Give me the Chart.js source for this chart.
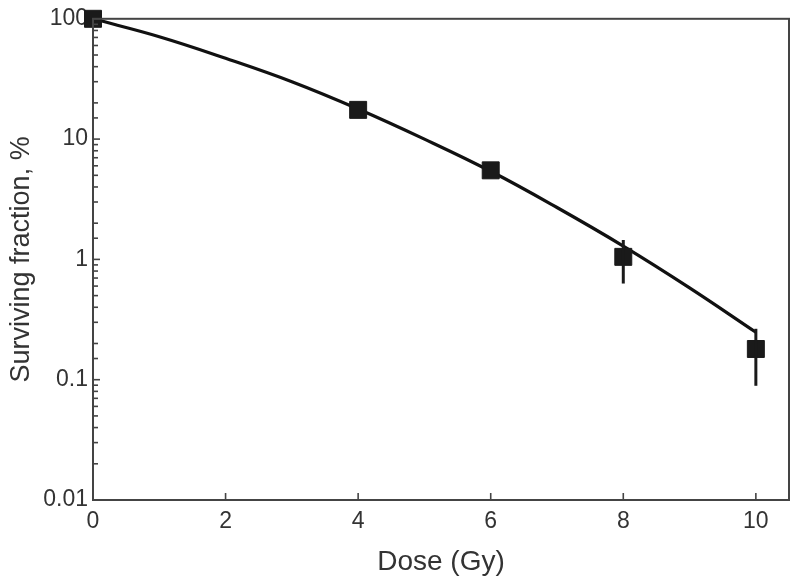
<!DOCTYPE html>
<html>
<head>
<meta charset="utf-8">
<script src="https://cdn.jsdelivr.net/npm/chart.js@4"></script>
<style>
html,body{margin:0;padding:0;background:#fff;}
canvas{display:block;}
</style>
</head>
<body>
<canvas id="c" width="800" height="586"></canvas>
<script>
// Measured data points (dose in Gy, surviving fraction in %)
const doses = [0, 4, 6, 8, 10];
const survival = [100, 17.5, 5.5, 1.05, 0.18];
const errLow = [null, null, null, 0.63, 0.089];
const errHigh = [null, null, null, 1.45, 0.265];
// Fitted curve
const fitDoses = [0, 1, 2, 3, 4, 5, 6, 7, 8, 9, 10];
const fitSurvival = [100, 71, 47, 30, 17.8, 10, 5.4, 2.7, 1.29, 0.58, 0.248];
// Tick labels
const xTicks = [0, 2, 4, 6, 8, 10];
const yTicks = [0.01, 0.1, 1, 10, 100];

const FONT = '"Liberation Sans", Arial, Helvetica, sans-serif';
const TEXT = '#333333';
const AXIS = '#444444';

const framePlugin = {
  id: 'frame',
  afterDatasetsDraw(chart) {
    const {ctx, scales} = chart;
    ctx.save();
    ctx.strokeStyle = '#1a1a1a';
    ctx.lineWidth = 3;
    doses.forEach((d, i) => {
      if (errLow[i] == null) return;
      const x = scales.x.getPixelForValue(d);
      ctx.beginPath();
      ctx.moveTo(x, scales.y.getPixelForValue(errHigh[i]));
      ctx.lineTo(x, scales.y.getPixelForValue(errLow[i]));
      ctx.stroke();
    });
    ctx.restore();
  },
  afterDraw(chart) {
    const {ctx, chartArea: a, scales} = chart;
    ctx.save();
    ctx.strokeStyle = AXIS;
    ctx.lineWidth = 2;
    ctx.strokeRect(a.left, a.top, a.right - a.left, a.bottom - a.top);
    ctx.lineWidth = 1.6;
    scales.y.ticks.forEach(t => {
      const y = scales.y.getPixelForValue(t.value);
      if (y < a.top - 1 || y > a.bottom + 1) return;
      const len = yTicks.includes(t.value) ? 7 : 5;
      ctx.beginPath();
      ctx.moveTo(a.left, y);
      ctx.lineTo(a.left + len, y);
      ctx.stroke();
    });
    xTicks.forEach(v => {
      const x = scales.x.getPixelForValue(v);
      ctx.beginPath();
      ctx.moveTo(x, a.bottom);
      ctx.lineTo(x, a.bottom - 7);
      ctx.stroke();
    });
    ctx.restore();
  }
};

new Chart(document.getElementById('c'), {
  type: 'scatter',
  data: {
    datasets: [
      {
        label: 'Measured',
        data: doses.map((d, i) => ({x: d, y: survival[i]})),
        showLine: false,
        pointStyle: 'rect',
        pointRadius: 12,
        pointBackgroundColor: '#1a1a1a',
        pointBorderColor: '#1a1a1a',
        pointBorderWidth: 1,
        clip: false,
        order: 0
      },
      {
        label: 'Fit',
        data: fitDoses.map((d, i) => ({x: d, y: fitSurvival[i]})),
        showLine: true,
        borderColor: '#111111',
        borderWidth: 3.2,
        pointRadius: 0,
        tension: 0.4,
        clip: false,
        order: 1
      }
    ]
  },
  options: {
    responsive: false,
    animation: false,
    devicePixelRatio: 1,
    layout: {autoPadding: false, padding: {left: 0, right: 11, top: 15, bottom: 0}},
    plugins: {legend: {display: false}, tooltip: {enabled: false}},
    scales: {
      x: {
        type: 'linear',
        min: 0,
        max: 10.5,
        grid: {display: false, drawTicks: false},
        border: {display: false},
        afterBuildTicks(scale) { scale.ticks = xTicks.map(v => ({value: v})); },
        afterFit(scale) { scale.height = 86; },
        ticks: {
          color: TEXT,
          font: {family: FONT, size: 23},
          padding: 8,
          maxRotation: 0,
          callback: v => String(v)
        },
        title: {
          display: true,
          text: 'Dose (Gy)',
          color: TEXT,
          font: {family: FONT, size: 28},
          padding: {top: 0, bottom: 7}
        }
      },
      y: {
        type: 'logarithmic',
        min: 0.01,
        max: 100,
        grid: {display: false, drawTicks: false},
        border: {display: false},
        afterFit(scale) { scale.width = 93; },
        ticks: {
          color: TEXT,
          font: {family: FONT, size: 23},
          padding: 5,
          autoSkip: false,
          callback: v => yTicks.includes(v) ? String(v) : ''
        },
        title: {
          display: true,
          text: 'Surviving fraction, %',
          color: TEXT,
          font: {family: FONT, size: 27},
          padding: {top: 5, bottom: 0}
        }
      }
    }
  },
  plugins: [framePlugin]
});
</script>
</body>
</html>
